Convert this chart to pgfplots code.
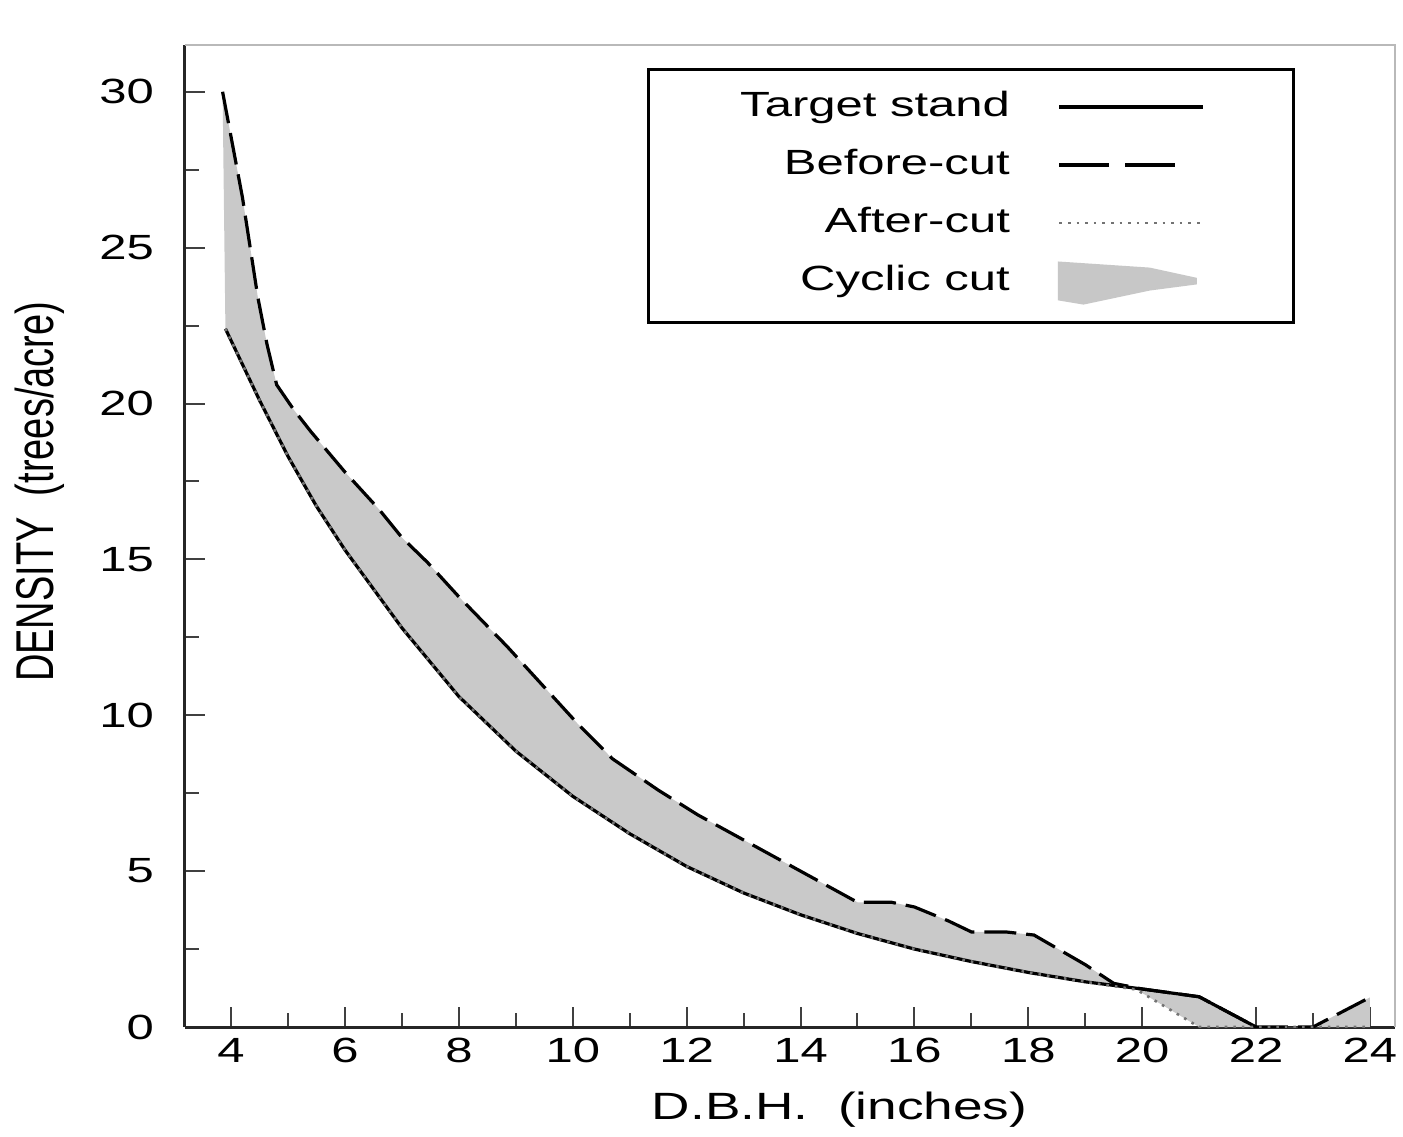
\documentclass[border=0pt]{standalone}
\usepackage{fontspec}
\setmainfont{Liberation Sans}[FakeStretch=1.4]
\newfontfamily\plainsans{Liberation Sans}
\usepackage{graphicx}
\usepackage{pgfplots}
\pgfplotsset{compat=1.18}
\usepgfplotslibrary{fillbetween}
\usepackage{pgfplotstable}

\pgfplotsset{
  linelegend/.style={legend image code/.code={\draw[##1] (0pt,0pt) -- (72pt,0pt);}},
  dashlegend/.style={legend image code/.code={\draw[##1, dash pattern=on 25pt off 8pt] (0pt,0pt) -- (58pt,0pt);}},
}

\pgfplotstableread{
x y
3.85 30.0
4.2 26.6
4.47 23.4
4.63 21.9
4.8 20.6
5.1 19.8
5.4 19.1
6.0 17.8
6.6 16.6
7.0 15.7
7.45 14.9
8.0 13.8
8.85 12.2
9.5 10.9
10.1 9.7
10.7 8.6
11.5 7.6
12.2 6.8
13.0 6.0
13.6 5.4
14.5 4.5
15.0 4.0
15.6 4.0
16.0 3.85
16.6 3.4
17.0 3.05
17.6 3.05
18.1 2.95
19.0 2.0
19.5 1.4
20.0 1.22
21.0 0.97
22.0 0
23.0 0
24.0 0.95
}\beforecut

\pgfplotstableread{
x y
3.9 22.4
4.5 20.1
5 18.3
5.5 16.7
6 15.3
7 12.8
8 10.6
9 8.85
10 7.4
11 6.2
12 5.15
13 4.3
14 3.6
15 3.0
16 2.5
17 2.1
18 1.75
19 1.45
20 1.22
21 0.97
22 0
}\target

\pgfplotstableread{
x y
3.9 22.4
4.5 20.1
5 18.3
5.5 16.7
6 15.3
7 12.8
8 10.6
9 8.85
10 7.4
11 6.2
12 5.15
13 4.3
14 3.6
15 3.0
16 2.5
17 2.1
18 1.75
19 1.45
19.9 1.2
21 0
22 0
23 0
24 0
}\aftercut

\begin{document}
\begin{tikzpicture}
\begin{axis}[
  scale only axis,
  width=605pt, height=491pt,
  xmin=3.19, xmax=24.44, ymin=0, ymax=31.5,
  axis x line*=bottom, axis y line*=left,
  axis line style={line width=1.5pt, black!85},
  xtick={4,6,...,24}, minor xtick={3,5,...,23},
  ytick={0,5,...,30}, minor ytick={2.5,7.5,...,27.5},
  tick align=inside,
  major tick length=10pt, minor tick length=7pt,
  tick style={line width=1pt, black!75},
  /pgf/number format/assume math mode=true,
  tick label style={font=\fontsize{17.5}{20}\selectfont},
  yticklabel style={xshift=-12pt},
  xticklabel style={yshift=-2pt},
  xlabel={D.B.H.\ \ (inches)},
  xlabel style={at={(axis description cs:0.541,-0.0845)}, anchor=center, font=\fontsize{19}{22}\selectfont},
  ylabel={\plainsans\fontsize{19}{22}\selectfont\scalebox{1}[1.4]{DENSITY\ \ (trees/acre)}},
  ylabel style={at={(axis description cs:-0.1198,0.545)}, anchor=center},
  legend cell align=right,
  legend plot pos=right,
  legend style={at={(axis description cs:0.917,0.977)}, anchor=north east,
    draw=black, line width=1.5pt, fill=white,
    inner xsep=44pt, inner ysep=9pt,
    font=\fontsize{17.5}{20}\selectfont,
    cells={anchor=east},
    nodes={inner sep=2pt, text height=12.5pt, text depth=3.5pt},
    /tikz/row sep=9pt, /tikz/column sep=22pt},
  after end axis/.code={
    \draw[gray!55, line width=1pt] (rel axis cs:0,1) -- (rel axis cs:1,1) -- (rel axis cs:1,0);
  },
]
\coordinate (bl) at (rel axis cs:0,0);
\coordinate (tr) at (rel axis cs:1,1);

\addplot[draw=none, name path=B, forget plot] table {\beforecut};
\addplot[draw=none, name path=A, forget plot] table {\aftercut};
\addplot[fill=black!21, draw=none, forget plot] fill between[of=B and A];

\addplot[black, line width=1.6pt, linelegend] table {\target};
\addlegendentry{Target stand}
\addplot[black, line width=1.6pt, dash pattern=on 16pt off 5pt, dashlegend] table {\beforecut};
\addlegendentry{Before-cut}
\addplot[black!55, line width=1.3pt, dash pattern=on 1.3pt off 3pt, linelegend] table {\aftercut};
\addlegendentry{After-cut}
\addlegendimage{legend image code/.code={\fill[black!22] (0pt,9pt) -- (45pt,6pt) -- (68pt,1pt) -- (68pt,-1pt) -- (45pt,-4pt) -- (12pt,-11pt) -- (0pt,-9pt) -- cycle;}}
\addlegendentry{Cyclic cut}
\end{axis}
\pgfresetboundingbox
\path ([shift={(-92.5pt,-54.5pt)}]bl) rectangle ([shift={(4pt,22.5pt)}]tr);
\end{tikzpicture}
\end{document}
